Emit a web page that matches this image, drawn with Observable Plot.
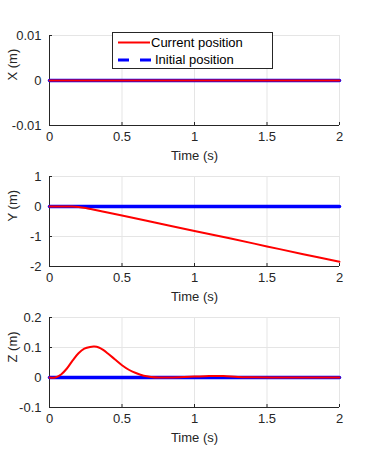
<!DOCTYPE html>
<html><head><meta charset="utf-8">
<script src="https://cdn.jsdelivr.net/npm/d3@7"></script>
<script src="https://cdn.jsdelivr.net/npm/@observablehq/plot@0.6"></script>
<style>
body{margin:0;background:#fff;font-family:"Liberation Sans",Arial,sans-serif;}
#wrap{position:relative;width:374px;height:470px;overflow:hidden;}
.panel{position:absolute;left:0;}
#legend{position:absolute;left:112px;top:32px;width:161px;height:37px;border:1px solid #262626;background:#fff;box-sizing:border-box;font-size:13px;color:#000;}
#legend span{position:absolute;white-space:nowrap;line-height:13px;}
#legend svg{position:absolute;left:0;top:0;}
</style></head>
<body><div id="wrap"></div>
<script>
// ---- data ----
const xTicks = [0, 0.5, 1, 1.5, 2];
const seriesNames = ["Current position", "Initial position"];

const xTime = [0, 0.5, 1, 1.5, 2];
const xCurrent = [0, 0, 0, 0, 0];
const xInitial = [0, 0, 0, 0, 0];
const xYTicks = [-0.01, 0, 0.01];

const yTime = [0, 0.1, 0.15, 0.2, 0.25, 0.3, 0.35, 0.4, 0.5, 0.75, 1, 1.25, 1.5, 1.75, 2];
const yCurrent = [0, 0, -0.003, -0.015, -0.05, -0.1, -0.15, -0.2, -0.3, -0.56, -0.82, -1.07, -1.33, -1.59, -1.84];
const yInitialTime = [0, 2];
const yInitial = [0, 0];
const yYTicks = [-2, -1, 0, 1];

const zTime = [0, 0.04, 0.08, 0.12, 0.16, 0.2, 0.24, 0.28, 0.31, 0.34, 0.37, 0.4, 0.45, 0.5, 0.55, 0.6, 0.65, 0.7, 0.75, 0.8, 0.9, 1.0, 1.1, 1.2, 1.3, 1.4, 1.6, 1.8, 2];
const zCurrent = [0, 0, 0.01, 0.03, 0.057, 0.081, 0.096, 0.102, 0.103, 0.1, 0.092, 0.081, 0.061, 0.041, 0.025, 0.014, 0.006, 0.002, 0, 0, 0.001, 0.003, 0.005, 0.005, 0.002, 0.001, 0, 0, 0];
const zInitialTime = [0, 2];
const zInitial = [0, 0];
const zYTicks = [-0.1, 0, 0.1, 0.2];

const red = "#ff0000", blue = "#0000ff", axisColor = "#262626", gridColor = "#e5e5e5";
const font = "'Liberation Sans', Arial, sans-serif";

function toRows(ts, vs) { return ts.map((t, i) => ({t, v: vs[i]})); }

function panel({top, mt, label, yTicks, tCur, vCur, tIni, vIni}) {
  const yDomain = [yTicks[0], yTicks[yTicks.length - 1]];
  const xDomain = [xTicks[0], xTicks[xTicks.length - 1]];
  const svg = Plot.plot({
    width: 374, height: mt + 90 + 40,
    marginTop: mt, marginBottom: 40, marginLeft: 49, marginRight: 35,
    x: {domain: xDomain},
    y: {domain: yDomain},
    style: {fontFamily: font, fontSize: "13px", color: axisColor, background: "transparent", overflow: "visible"},
    marks: [
      Plot.gridX(xTicks, {stroke: gridColor, strokeOpacity: 1}),
      Plot.gridY(yTicks, {stroke: gridColor, strokeOpacity: 1}),
      Plot.axisX(xTicks, {tickSize: -3, tickPadding: 9, tickFormat: d => String(d), label: null, stroke: axisColor}),
      Plot.axisY(yTicks, {tickSize: -3, tickPadding: 11, tickFormat: d => String(d), label: null, stroke: axisColor}),
      Plot.ruleX([xDomain[0]], {stroke: axisColor, strokeWidth: 1}),
      Plot.ruleY([yDomain[0]], {stroke: axisColor, strokeWidth: 1}),
      Plot.line(toRows(tIni, vIni), {x: "t", y: "v", stroke: blue, strokeWidth: 3.5}),
      Plot.line(toRows(tCur, vCur), {x: "t", y: "v", stroke: red, strokeWidth: 2, curve: "catmull-rom"}),
      Plot.text(["Time (s)"], {text: d => d, frameAnchor: "bottom", dy: 30, lineAnchor: "middle", fill: axisColor, fontSize: 13}),
      Plot.text([label], {text: d => d, frameAnchor: "left", dx: -37, rotate: -90, lineAnchor: "middle", fill: axisColor, fontSize: 13})
    ]
  });
  svg.classList.add("panel");
  svg.style.top = top + "px";
  return svg;
}

const wrap = document.getElementById("wrap");
wrap.appendChild(panel({top: 0, mt: 35, label: "X (m)", yTicks: xYTicks, tCur: xTime, vCur: xCurrent, tIni: xTime, vIni: xInitial}));
wrap.appendChild(panel({top: 165, mt: 11, label: "Y (m)", yTicks: yYTicks, tCur: yTime, vCur: yCurrent, tIni: yInitialTime, vIni: yInitial}));
wrap.appendChild(panel({top: 306, mt: 11, label: "Z (m)", yTicks: zYTicks, tCur: zTime, vCur: zCurrent, tIni: zInitialTime, vIni: zInitial}));

// legend
const leg = document.createElement("div");
leg.id = "legend";
leg.innerHTML = `<svg width="160" height="36">
  <line x1="5" x2="37" y1="9.5" y2="9.5" stroke="${red}" stroke-width="2"/>
  <line x1="5" x2="38" y1="27" y2="27" stroke="${blue}" stroke-width="3" stroke-dasharray="11,11"/>
</svg>
<span style="left:38px;top:3px">${seriesNames[0]}</span>
<span style="left:42px;top:20px">${seriesNames[1]}</span>`;
wrap.appendChild(leg);
</script>
</body></html>
